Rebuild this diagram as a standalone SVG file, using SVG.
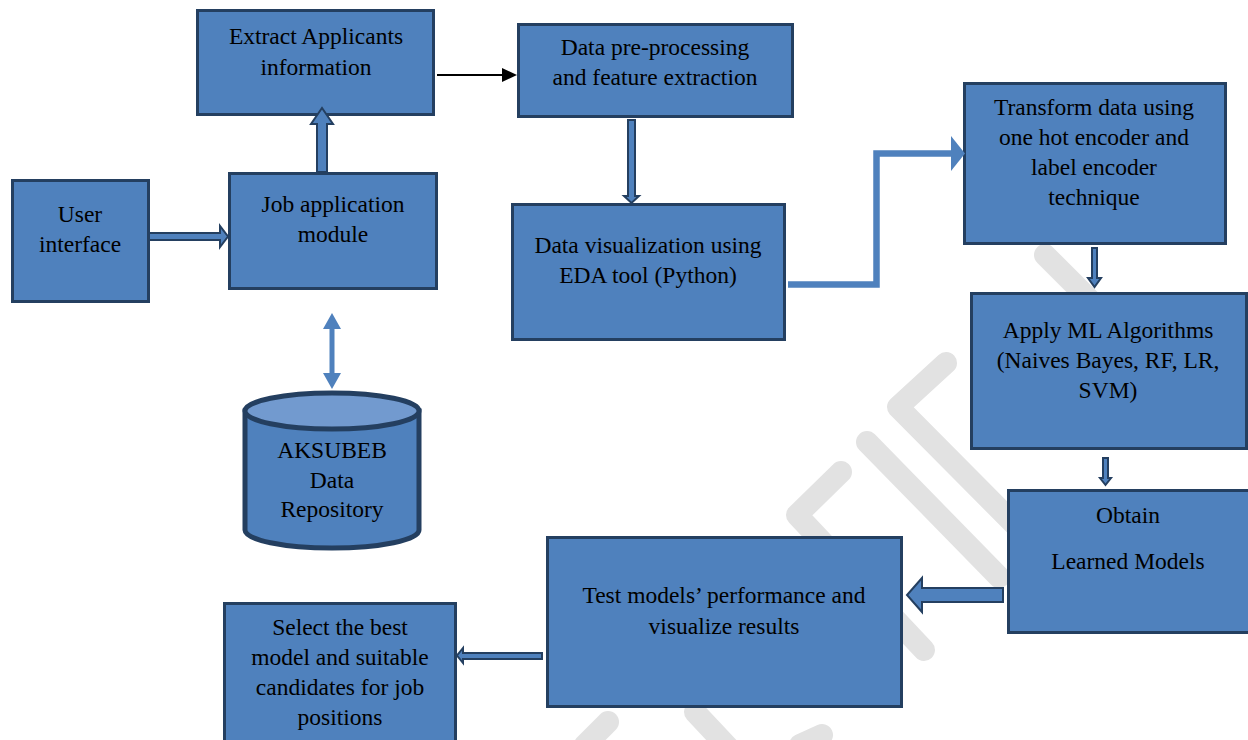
<svg xmlns="http://www.w3.org/2000/svg" width="1248" height="740" viewBox="0 0 1248 740">
<style>
.box{fill:#4F81BD;stroke:#243F60;stroke-width:3}
.t{font-family:"Liberation Serif","Times New Roman",serif;font-size:23.5px;fill:#000;text-anchor:middle}
.ha{fill:#4F81BD;stroke:#243F60;stroke-width:2;stroke-linejoin:miter}
.wm{fill:none;stroke:#E2E2E2;stroke-width:22;stroke-linecap:round;stroke-linejoin:round}
</style>
<rect width="1248" height="740" fill="#fff"/>
<g id="watermark">
<polyline class="wm" points="946,363 898,407 1030,540"/>
<polyline class="wm" points="867,442 999,577"/>
<polyline class="wm" points="841,472 797,515 924,650"/>
<polyline class="wm" points="1045,255 1100,310"/>
<polyline class="wm" points="585,745 608,722"/>
<polyline class="wm" points="695,712 740,760"/>
<polyline class="wm" points="800,745 822,735"/>
</g>
<g id="n1"><rect class="box" x="197.5" y="10.5" width="236" height="104"/><text class="t" x="316" y="44">Extract Applicants</text><text class="t" x="316" y="75">information</text></g>
<g id="n2"><rect class="box" x="518.5" y="24.5" width="274" height="92"/><text class="t" x="655" y="55">Data pre-processing</text><text class="t" x="655" y="85">and feature extraction</text></g>
<g id="n3"><rect class="box" x="12.5" y="180.5" width="136" height="121"/><text class="t" x="80" y="222">User</text><text class="t" x="80" y="252">interface</text></g>
<g id="n4"><rect class="box" x="229.5" y="173.5" width="207" height="115"/><text class="t" x="333" y="212">Job application</text><text class="t" x="333" y="242">module</text></g>
<g id="n5"><rect class="box" x="512.5" y="204.5" width="272" height="135"/><text class="t" x="648" y="253">Data visualization using</text><text class="t" x="648" y="283">EDA tool (Python)</text></g>
<g id="n6"><rect class="box" x="964.5" y="83.5" width="261" height="160"/><text class="t" x="1094" y="115">Transform data using</text><text class="t" x="1094" y="145">one hot encoder and</text><text class="t" x="1094" y="175">label encoder</text><text class="t" x="1094" y="205">technique</text></g>
<g id="n7"><rect class="box" x="971.5" y="293.5" width="275" height="155"/><text class="t" x="1108" y="338">Apply ML Algorithms</text><text class="t" x="1108" y="368">(Naives Bayes, RF, LR,</text><text class="t" x="1108" y="398">SVM)</text></g>
<g id="n8"><rect class="box" x="1008.5" y="490.5" width="245" height="142"/><text class="t" x="1128" y="523">Obtain</text><text class="t" x="1128" y="569">Learned Models</text></g>
<g id="n9"><rect class="box" x="547.5" y="537.5" width="354" height="169"/><text class="t" x="724" y="603">Test models’ performance and</text><text class="t" x="724" y="634">visualize results</text></g>
<g id="n10"><rect class="box" x="224.5" y="603.5" width="231" height="150"/><text class="t" x="340" y="635">Select the best</text><text class="t" x="340" y="665">model and suitable</text><text class="t" x="340" y="695">candidates for job</text><text class="t" x="340" y="725">positions</text></g>
<g id="n11">
<path d="M245,411 L245,530 A87,18 0 0 0 419,530 L419,411 Z" fill="#4F81BD" stroke="#243F60" stroke-width="5"/>
<ellipse cx="332" cy="411" rx="87" ry="18" fill="#729ACF" stroke="#243F60" stroke-width="5"/>
<text class="t" x="332" y="458">AKSUBEB</text><text class="t" x="332" y="488">Data</text><text class="t" x="332" y="517">Repository</text>
</g>
<g id="connectors">
<polygon class="ha" points="149,233 220,233 220,226 228,236.5 220,247 220,240 149,240"/>
<polygon class="ha" points="317,172 317,124 311,124 322,108 333,124 327,124 327,172"/>
<g fill="#4F81BD">
<rect x="329.5" y="327" width="5" height="48"/>
<polygon points="323,329 332,313 341,329"/>
<polygon points="323,373 332,389 341,373"/>
</g>
<line x1="437" y1="75" x2="504" y2="75" stroke="#000" stroke-width="2"/>
<polygon points="502,68 517,75 502,82" fill="#000"/>
<polygon class="ha" points="628,120 635,120 635,196 639,196 631.5,203 624,196 628,196"/>
<polyline points="788,284.5 876.5,284.5 876.5,153.5 953,153.5" fill="none" stroke="#4F81BD" stroke-width="6.5"/>
<polygon points="951,136 965,153.5 951,171" fill="#4F81BD"/>
<polygon class="ha" points="1092,248 1097,248 1097,278 1101,278 1094.5,287 1088,278 1092,278"/>
<polygon class="ha" points="1103,458 1108,458 1108,478 1111,478 1105.5,485 1100,478 1103,478"/>
<polygon class="ha" points="1003,588 922,588 922,578 907,595 922,612 922,602 1003,602"/>
<polygon class="ha" points="542,653 463,653 463,648 457,655.5 463,663 463,659 542,659"/>
</g>
</svg>
